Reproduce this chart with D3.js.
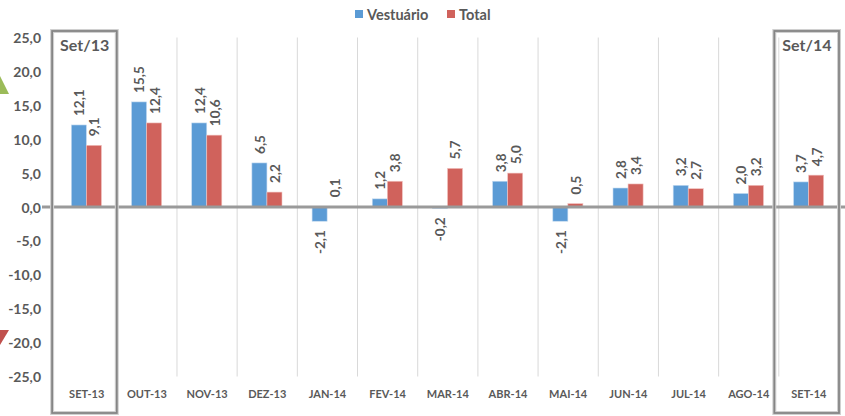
<!DOCTYPE html>
<html>
<head>
<meta charset="utf-8">
<script src="https://cdn.jsdelivr.net/npm/d3@7"></script>
<style>
  body { margin: 0; background: #fff; }
  svg text { font-family: Lato, "Open Sans", sans-serif; font-weight: bold; fill: #595959; }
</style>
</head>
<body>
<div id="canvas"></div>
<script>
// data
var months = ["SET-13", "OUT-13", "NOV-13", "DEZ-13", "JAN-14", "FEV-14", "MAR-14", "ABR-14", "MAI-14", "JUN-14", "JUL-14", "AGO-14", "SET-14"];
var vestuario = [12.1, 15.5, 12.4, 6.5, -2.1, 1.2, -0.2, 3.8, -2.1, 2.8, 3.2, 2.0, 3.7];
var total = [9.1, 12.4, 10.6, 2.2, 0.1, 3.8, 5.7, 5.0, 0.5, 3.4, 2.7, 3.2, 4.7];
var seriesNames = ["Vestuário", "Total"];
var yTicks = [25, 20, 15, 10, 5, 0, -5, -10, -15, -20, -25];
var highlights = [{ month: "SET-13", label: "Set/13" }, { month: "SET-14", label: "Set/14" }];

var colors = { "Vestuário": "#5b9bd5", "Total": "#d0625c" };
var W = 845, H = 416;

var svg = d3.select("#canvas").append("svg")
  .attr("width", W)
  .attr("height", H);

// pt-BR style numbers: comma decimal, plain hyphen for minus
var locale = d3.formatLocale({ decimal: ",", thousands: ".", grouping: [3], currency: ["R$", ""], minus: "-" });
var fmt = locale.format(".1f");

// scales
var x = d3.scaleBand().domain(months).range([56.6, 839]);
var xSub = d3.scaleBand().domain(seriesNames).range([x.bandwidth() * 0.245, x.bandwidth() * 0.745]);
var y = d3.scaleLinear().domain([-25, 25]).range([376.5, 37.5]);

// vertical gridlines between categories
svg.append("g")
  .selectAll("line")
  .data(months.slice(1))
  .join("line")
  .attr("x1", function(d) { return x(d); })
  .attr("x2", function(d) { return x(d); })
  .attr("y1", y(25))
  .attr("y2", y(-25))
  .attr("stroke", "#d9d9d9")
  .attr("stroke-width", 1);

// y axis labels
var yAxis = d3.axisLeft(y).tickValues(yTicks).tickSize(0).tickPadding(0).tickFormat(fmt);
var gy = svg.append("g").attr("transform", "translate(41,0)").call(yAxis);
gy.select(".domain").remove();
gy.selectAll("text").style("font-size", "14px").attr("fill", "#595959").attr("dy", "0.36em");

// bars
var rows = months.map(function(m, i) {
  return { month: m, values: [{ key: "Vestuário", v: vestuario[i] }, { key: "Total", v: total[i] }] };
});

var groups = svg.append("g")
  .selectAll("g")
  .data(rows)
  .join("g")
  .attr("transform", function(d) { return "translate(" + x(d.month) + ",0)"; });

groups.selectAll("rect")
  .data(function(d) { return d.values; })
  .join("rect")
  .attr("x", function(d) { return xSub(d.key); })
  .attr("width", xSub.bandwidth())
  .attr("y", function(d) { return y(Math.max(0, d.v)); })
  .attr("height", function(d) { return Math.abs(y(d.v) - y(0)); })
  .attr("fill", function(d) { return colors[d.key]; })
  .attr("stroke", function(d) { return d.key == "Total" ? "#f2c4c1" : "#c5dbf0"; })
  .attr("stroke-width", 0.6);

// rotated value labels
groups.selectAll("text")
  .data(function(d) { return d.values; })
  .join("text")
  .attr("transform", function(d) {
    var px = xSub(d.key) + xSub.bandwidth() / 2;
    var py = d.v >= 0 ? y(d.v) - 9 : y(d.v) + 9;
    return "translate(" + px + "," + py + ") rotate(-90)";
  })
  .attr("text-anchor", function(d) { return d.v >= 0 ? "start" : "end"; })
  .attr("dy", "0.4em")
  .style("font-size", "13.5px")
  .attr("fill", "#6a6a6a")
  .text(function(d) { return fmt(d.v); });

// zero line
svg.append("line")
  .attr("x1", 42).attr("x2", W)
  .attr("y1", y(0)).attr("y2", y(0))
  .attr("stroke", "#9a9a9a")
  .attr("stroke-width", 3);

// x axis labels
var xAxis = d3.axisBottom(x).tickSize(0).tickPadding(0);
var gx = svg.append("g").attr("transform", "translate(0,390)").call(xAxis);
gx.select(".domain").remove();
gx.selectAll("text").style("font-size", "11px").attr("fill", "#595959").attr("dy", "0.71em");

// highlight boxes
var hb = svg.append("g")
  .selectAll("g")
  .data(highlights)
  .join("g");

hb.append("rect")
  .attr("x", function(d) { return x(d.month) - 4.5; })
  .attr("y", 31)
  .attr("width", x.bandwidth() + 4.5)
  .attr("height", 382)
  .attr("fill", "none")
  .attr("stroke", "#d0d0d0")
  .attr("stroke-width", 4);

hb.append("rect")
  .attr("x", function(d) { return x(d.month) - 4.5; })
  .attr("y", 31)
  .attr("width", x.bandwidth() + 4.5)
  .attr("height", 382)
  .attr("fill", "none")
  .attr("stroke", "#858585")
  .attr("stroke-width", 1.8);

hb.append("text")
  .attr("x", function(d) { return x(d.month) + x.bandwidth() / 2 - 2; })
  .attr("y", 51)
  .attr("text-anchor", "middle")
  .style("font-size", "16px")
  .attr("fill", "#555")
  .text(function(d) { return d.label; });

// legend
var legend = svg.append("g").attr("transform", "translate(355,15)");
var lx = [0, 92];
seriesNames.forEach(function(s, i) {
  legend.append("rect").attr("x", lx[i]).attr("y", -5).attr("width", 8).attr("height", 8).attr("fill", colors[s]);
  legend.append("text").attr("x", lx[i] + 12).attr("y", 0).attr("dy", "0.35em")
    .style("font-size", "14.5px").attr("fill", "#595959").text(s);
});

// bits of neighbouring shapes on the left edge
svg.append("polygon").attr("points", "0,76 9,94 0,94").attr("fill", "#9bbb59");
svg.append("polygon").attr("points", "0,330 9,330 0,345").attr("fill", "#c0504d");
</script>
</body>
</html>
